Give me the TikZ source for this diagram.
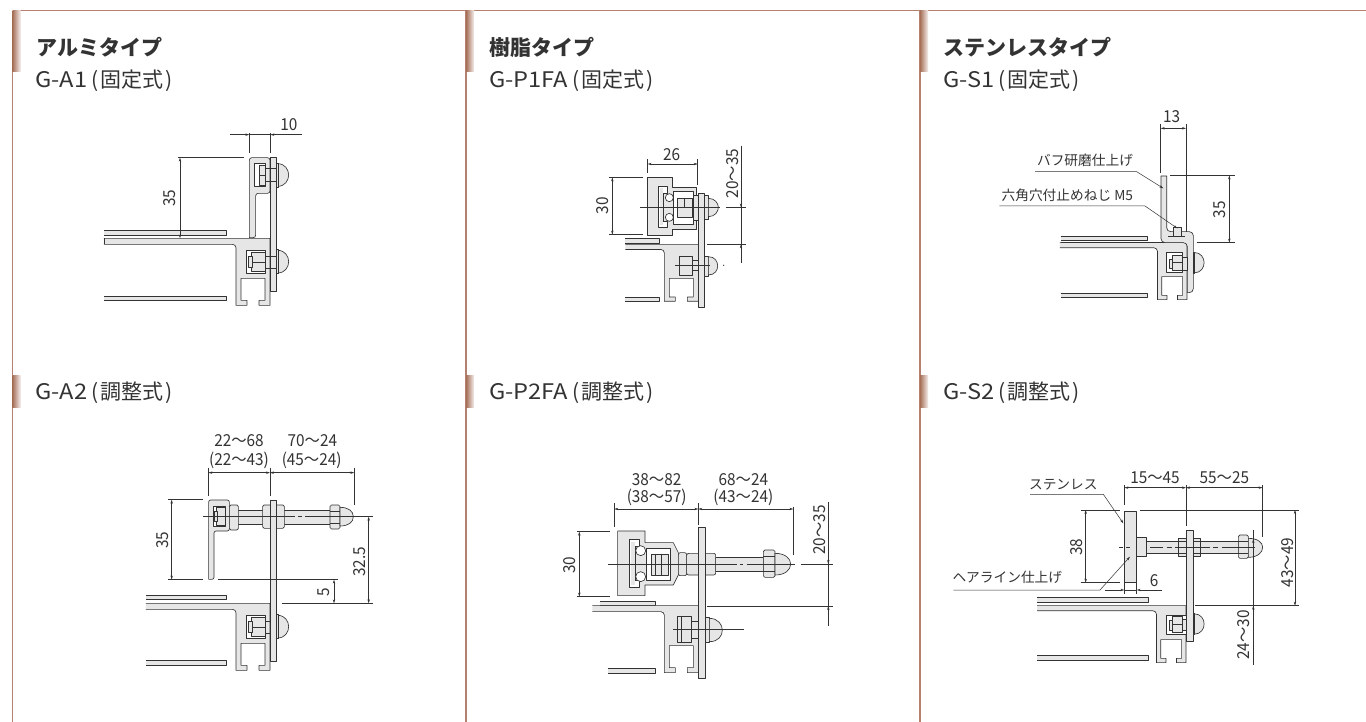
\documentclass[tikz,border=0pt]{standalone}
\usepackage{fontspec}
\setmainfont{Noto Sans CJK JP}
\newfontfamily\dimf[FakeStretch=.93]{Noto Sans CJK JP}
\newfontfamily\latf[FakeStretch=1.1]{Noto Sans CJK JP}
\usetikzlibrary{arrows.meta}
\definecolor{ln}{HTML}{333333}
\definecolor{gf}{HTML}{E6E6E6}
\definecolor{br}{HTML}{B5806F}
\definecolor{brd}{HTML}{A66F58}
\definecolor{txt}{HTML}{333333}
\tikzset{
 pt/.style={draw=ln,fill=gf,line width=.65pt,line join=round},
 wl/.style={draw=ln,fill=white,line width=.65pt,line join=round},
 ol/.style={draw=ln,line width=.65pt},
 dm/.style={draw=ln,line width=.5pt},
 dd/.style={dm,{Stealth[length=4pt,width=2.4pt]}-{Stealth[length=4pt,width=2.4pt]}},
 de/.style={dm,-{Stealth[length=4pt,width=2.4pt]}},
 dimt/.style={text=txt,font=\dimf\fontsize{16.5}{16.5}\selectfont,inner sep=0pt},
 note/.style={text=txt,font=\fontsize{13.7}{14}\selectfont,inner sep=0pt},
 head/.style={text=txt,anchor=west,inner sep=0pt,font=\fontsize{21}{22}\selectfont\bfseries},
 sub/.style={text=txt,anchor=west,inner sep=0pt,font=\fontsize{21}{22}\selectfont},
 sep/.style={draw=br,line width=1.2pt},
 barb/.style={left color=brd,right color=brd!12,draw=none},
 zs/.style={x=.33333pt,y=-.33333pt},
}
\newcommand{\subl}[2]{{\latf\fontsize{21.5}{22}\selectfont #1}\hspace{4pt}(\hspace{2pt}#2\hspace{2pt})}
% profile of the rail, in px relative to its top right corner
\newcommand{\basep}[5]{\begin{scope}[shift={(#1,#2)},x=#3pt,y=-#4pt]
 \draw[pt] (#5,0) -- (0,0) -- (0,67) -- (-11,67) -- (-11,62) -- (-5,62) -- (-5,40) -- (-29,40) -- (-29,62) -- (-23,62) -- (-23,67) -- (-34,67) [rounded corners=3.5pt] -- (-34,6) [sharp corners] -- (#5,6);
\end{scope}}
\newcommand{\railp}[4]{\draw[pt] (#1,#3) -- (#2,#3) -- (#2,#4) -- (#1,#4);}
\newcommand{\nutblock}[4]{\begin{scope}[shift={(#1,#2)}]
 \draw[wl] (0,0) rectangle (#3,#4);
 \draw[pt] ({#3*.27},{#4*.08}) rectangle (#3,{#4*.92});
 \draw[ol] ({#3*.27},{#4*.5}) -- (#3,{#4*.5});
 \draw[pt] ({#3*.1},{#4*.25}) rectangle ({#3*.3},{#4*.75});
\end{scope}}
\newcommand{\dome}[3]{\begin{scope}[shift={(#1,#2)},scale=#3]
 \draw[pt] (3,-34) .. controls (25,-34) and (36,-16) .. (36,0) .. controls (36,16) and (25,34) .. (3,34) -- cycle;
 \draw[pt] (0,-36) rectangle (4,36);
\end{scope}}
\begin{document}
\begin{tikzpicture}[x=1pt,y=-1pt]
\useasboundingbox (0,0) rectangle (1366,722);
\fill[white] (0,0) rectangle (1366,722);
% panel frames
\draw[sep] (12.5,10.8) -- (1366,10.8);
\draw[sep] (12.5,10.8) -- (12.5,722);
\draw[sep] (466,10.8) -- (466,722);
\draw[sep] (920,10.8) -- (920,722);
\foreach \bx in {12.5,466,920}{
 \shade[barb] (\bx,11) rectangle (\bx+8,71.5);
 \shade[barb] (\bx,375) rectangle (\bx+8,407);
}
% headings
\node[head] (h1) at (36,47.5) {アルミタイプ};
\node[head] (h2) at (489,47.5) {樹脂タイプ};
\node[head] (h3) at (943,47.5) {ステンレスタイプ};
\node[sub] (s1) at (35,81) {\subl{G-A1}{固定式}};
\node[sub] (s2) at (35,393) {\subl{G-A2}{調整式}};
\node[sub] (s3) at (489,81) {\subl{G-P1FA}{固定式}};
\node[sub] (s4) at (489,393) {\subl{G-P2FA}{調整式}};
\node[sub] (s5) at (943,81) {\subl{G-S1}{固定式}};
\node[sub] (s6) at (943,393) {\subl{G-S2}{調整式}};

%% ---------- G-A1
\begin{scope}[shift={(90,110)},zs]
 \railp{42}{410}{362}{375}
 \railp{42}{410}{558}{572}
 \draw[pt,rounded corners=2.5pt] (478,383) -- (478,143) -- (540,143) -- (540,250) -- (497,250) -- (497,383) [sharp corners] -- cycle;
 \basep{540}{385}{1}{1}{-166}
 \draw[ol] (42,385) -- (42,403);
 \draw[pt] (540,143) -- (560,143) -- (560,545) -- (540,545) -- cycle;
 \nutblock{470}{422}{55}{68}
 \draw[wl] (493,160) rectangle (525,230);
 \draw[pt] (507,165) rectangle (525,225);
 \draw[ol] (507,195) -- (525,195);
 \draw[ol] (525,175) -- (560,175) (525,215) -- (560,215) (525,438) -- (560,438) (525,476) -- (560,476);
 \dome{560}{195}{1}
 \dome{560}{455}{1}
 \draw[dm] (478,128) -- (478,68) (541,128) -- (541,68);
 \draw[de] (421,74) -- (478,74);
 \draw[de] (635,74) -- (541,74);
 \draw[dm] (478,74) -- (541,74);
 \node[dimt] (t1) at (597,45) {10};
 \draw[dm] (265,143) -- (462,143);
 \draw[dd] (270,143) -- (270,385);
 \node[dimt,rotate=90] (t2) at (240,265) {35};
\end{scope}

%% ---------- G-A2
\begin{scope}[shift={(130,425)},zs]
 \railp{48}{290}{510}{523}
 \railp{48}{290}{706}{720}
 \basep{420}{535}{1}{1}{-124}
 \draw[pt,rounded corners=2pt] (236,463) -- (236,225) -- (298,225) -- (298,318) -- (252,318) -- (252,463) [sharp corners] -- cycle;
 \draw[pt] (298,255) rectangle (600,298);
 \draw[pt,rounded corners=1.5pt] (298,240) rectangle (325,315);
 \draw[pt,rounded corners=1.5pt] (398,240) rectangle (463,310);
 \draw[ol] (398,275) -- (463,275);
 \draw[pt,rounded corners=1.5pt] (600,240) rectangle (630,312);
 \draw[ol] (600,258) -- (630,258) (600,294) -- (630,294);
 \draw[pt] (630,247) .. controls (655,247) and (670,258) .. (670,275) .. controls (670,292) and (655,303) .. (630,303) -- cycle;
 \draw[pt] (420,225) -- (440,225) -- (440,710) -- (420,710) -- cycle;
 \nutblock{250}{243}{35}{62}
 \nutblock{350}{572}{55}{68}
 \draw[ol] (405,588) -- (420,588) (405,625) -- (420,625);
 \dome{440}{605}{1}
 \draw[ol] (220,275) -- (495,275) (505,275) -- (515,275) (525,275) -- (730,275);
 \draw[dm] (235,128) -- (235,213) (420,128) -- (420,213) (673,128) -- (673,240);
 \draw[dd] (235,143) -- (420,143);
 \draw[dd] (420,143) -- (673,143);
 \node[dimt] (t3) at (327,47) {22〜68};
 \node[dimt] (t4) at (327,105) {(22〜43)};
 \node[dimt] (t5) at (547,47) {70〜24};
 \node[dimt] (t6) at (545,105) {(45〜24)};
 \draw[dm] (115,224) -- (220,224) (115,464) -- (220,464) (265,464) -- (625,464) (455,535) -- (728,535);
 \draw[dd] (125,224) -- (125,464);
 \node[dimt,rotate=90] (t7) at (97,345) {35};
 \draw[dd] (612,464) -- (612,535);
 \node[dimt,rotate=90] (t8) at (580,503) {5};
 \draw[dd] (716,275) -- (716,535);
 \node[dimt,rotate=90] (t9) at (688,410) {32.5};
\end{scope}

%% ---------- G-P1FA
\begin{scope}[shift={(580,130)},zs]
 \railp{135}{237}{325}{340}
 \railp{135}{237}{503}{514}
 \basep{355}{343}{1}{.85}{-73}
 \draw[pt] (203,142) -- (277,142) -- (277,172) -- (350,172) -- (350,297) -- (277,297) -- (277,315) -- (203,315) -- cycle;
 \draw[wl] (235,168) -- (262,168) -- (262,190) -- (250,190) -- (250,275) -- (262,275) -- (262,292) -- (235,292) -- cycle;
 \fill[gf] (240,175) rectangle (250,285);
 \draw[ol] (250,190) -- (250,275);
 \draw[wl] (268,203) circle[radius=4pt];
 \draw[wl] (268,262) circle[radius=4pt];
 \draw[wl] (280,185) rectangle (340,282);
 \draw[pt] (292,205) rectangle (338,262);
 \draw[ol] (312,205) -- (312,232);
 \draw[pt] (340,195) rectangle (355,272);
 \draw[pt] (355,190) -- (372,190) -- (372,532) -- (355,532) -- cycle;
 \draw[pt] (298,378) rectangle (338,435);
 \draw[ol] (298,405) -- (338,405);
 \draw[pt] (338,390) rectangle (355,420);
 \draw[pt] (372,197) rectangle (385,267);
 \draw[pt] (385,205) .. controls (405,205) and (415,220) .. (415,232) .. controls (415,245) and (405,260) .. (385,260) -- cycle;
 \draw[pt] (372,378) rectangle (385,440);
 \draw[pt] (385,380) .. controls (405,380) and (413,395) .. (413,408) .. controls (413,420) and (405,435) .. (385,435) -- cycle;
 \draw[ol] (180,232) -- (420,232) (437,232) -- (497,232) (285,405) -- (390,405);
 \fill[ln] (431,406) circle[radius=2];
 \draw[dm] (203,88) -- (203,130) (353,88) -- (353,165);
 \draw[dd] (203,102) -- (353,102);
 \node[dimt] (t10) at (275,75) {26};
 \draw[dm] (88,142) -- (190,142) (88,314) -- (190,314);
 \draw[dd] (97,142) -- (97,314);
 \node[dimt,rotate=90] (t11) at (68,228) {30};
 \draw[dm] (483,47) -- (483,400) (382,343) -- (497,343);
 \draw[de] (483,205) -- (483,232);
 \draw[de] (483,370) -- (483,343);
 \node[dimt,rotate=90] (t12) at (457,130) {20〜35};
\end{scope}

%% ---------- G-P2FA
\begin{scope}[shift={(550,460)},zs]
 \railp{150}{315}{423}{437}
 \railp{173}{315}{625}{640}
 \basep{445}{437}{1}{1}{-106}
 \draw[pt] (203,213) -- (285,213) -- (285,248) -- (370,248) -- (385,278) -- (385,345) -- (370,375) -- (285,375) -- (285,407) -- (203,407) -- cycle;
 \draw[wl] (237,238) -- (268,238) -- (268,258) -- (255,258) -- (255,362) -- (268,362) -- (268,382) -- (237,382) -- cycle;
 \fill[gf] (243,245) rectangle (255,375);
 \draw[ol] (255,258) -- (255,362);
 \draw[wl] (272,272) circle[radius=5pt];
 \draw[wl] (272,350) circle[radius=5pt];
 \draw[wl] (290,265) rectangle (360,360);
 \draw[pt] (303,283) rectangle (355,345);
 \draw[ol] (315,283) -- (315,345) (335,283) -- (335,345);
 \draw[pt] (497,292) rectangle (640,335);
 \draw[pt,rounded corners=2pt] (385,278) rectangle (410,347);
 \draw[pt,rounded corners=2pt] (410,280) rectangle (497,345);
 \draw[pt] (445,203) -- (465,203) -- (465,655) -- (445,655) -- cycle;
 \draw[pt,rounded corners=1.5pt] (640,270) rectangle (675,352);
 \draw[ol] (640,290) -- (675,290) (640,333) -- (675,333);
 \draw[pt] (675,280) .. controls (705,280) and (722,295) .. (722,312) .. controls (722,330) and (705,345) .. (675,345) -- cycle;
 \draw[pt] (382,470) rectangle (425,547);
 \draw[ol] (395,470) -- (395,547);
 \draw[pt] (425,485) rectangle (445,535);
 \draw[pt] (465,472) rectangle (478,548);
 \draw[pt] (478,475) .. controls (505,475) and (517,495) .. (517,510) .. controls (517,528) and (505,545) .. (478,545) -- cycle;
 \draw[ol] (175,312) -- (560,312) (570,312) -- (580,312) (590,312) -- (735,312) (752,312) -- (848,312) (370,508) -- (582,508);
 \draw[dm] (193,130) -- (193,200) (445,130) -- (445,195) (730,140) -- (730,285);
 \draw[dd] (193,147) -- (445,147);
 \draw[dd] (445,147) -- (730,147);
 \node[dimt] (t13) at (320,60) {38〜82};
 \node[dimt] (t14) at (320,113) {(38〜57)};
 \node[dimt] (t15) at (580,60) {68〜24};
 \node[dimt] (t16) at (580,113) {(43〜24)};
 \draw[dm] (82,215) -- (180,215) (82,410) -- (180,410);
 \draw[dd] (88,215) -- (88,410);
 \node[dimt,rotate=90] (t17) at (60,315) {30};
 \draw[dm] (835,125) -- (835,497) (472,438) -- (848,438);
 \draw[de] (835,285) -- (835,312);
 \draw[de] (835,465) -- (835,438);
 \node[dimt,rotate=90] (t18) at (808,210) {20〜35};
\end{scope}

%% ---------- G-S1
\begin{scope}[shift={(990,100)},zs]
 \railp{212}{473}{408}{422}
 \railp{212}{473}{580}{593}
 \basep{591}{428}{.87}{.85}{-146}
 \draw[ln,line width=1pt] (212,429) -- (590,429);
 \draw[pt] (530,228) -- (530,385) [rounded corners=4pt] -- (530,395) -- (610,395) -- (610,578) [sharp corners] -- (592,578) [rounded corners=4pt] -- (592,428) -- (513,428) [sharp corners] -- (513,228) -- cycle;
 \draw[pt] (550,382) rectangle (575,410);
 \draw[ol] (535,408) -- (585,408);
 \draw[wl] (528,458) rectangle (578,518);
 \draw[pt] (547,465) rectangle (578,510);
 \draw[pt] (537,477) rectangle (547,505);
 \draw[ol] (547,488) -- (578,488);
 \draw[pt] (578,473) rectangle (592,510);
 \dome{610}{488}{.9}
 \draw[dm] (512,72) -- (512,218) (588,72) -- (588,395);
 \draw[dd] (512,85) -- (588,85);
 \node[dimt] (t19) at (545,50) {13};
 \draw[dm] (540,226) -- (735,226) (620,428) -- (735,428);
 \draw[dd] (718,226) -- (718,428);
 \node[dimt,rotate=90] (t20) at (688,330) {35};
 \node[note] (t21) at (285,182) {バフ研磨仕上げ};
 \node[note] (t22) at (232,285) {六角穴付止めねじ M5};
 \draw[de] (135,215) -- (440,215) -- (520,265);
 \draw[de] (28,318) -- (465,318) -- (562,385);
\end{scope}

%% ---------- G-S2
\begin{scope}[shift={(950,460)},zs]
 \railp{262}{595}{413}{428}
 \railp{262}{595}{587}{600}
 \basep{708}{437}{.87}{.85}{-171}
 \draw[pt] (523,153) rectangle (560,367);
 \draw[pt] (588,245) rectangle (865,280);
 \draw[pt] (560,232) rectangle (588,290);
 \draw[pt] (685,235) rectangle (752,288);
 \draw[ol] (685,245) -- (752,245) (685,280) -- (752,280);
 \draw[pt] (708,212) -- (730,212) -- (730,543) -- (708,543) -- cycle;
 \draw[pt,rounded corners=1.5pt] (865,225) rectangle (895,295);
 \draw[ol] (865,245) -- (895,245) (865,280) -- (895,280);
 \draw[pt] (895,235) .. controls (922,235) and (938,247) .. (938,262) .. controls (938,278) and (922,292) .. (895,292) -- cycle;
 \draw[wl] (648,465) rectangle (708,523);
 \draw[pt] (668,470) rectangle (698,518);
 \draw[pt] (658,480) rectangle (668,510);
 \draw[ol] (668,494) -- (698,494);
 \draw[pt] (698,478) rectangle (708,510);
 \dome{730}{492}{.9}
 \draw[ol] (507,262) -- (518,262) (528,262) -- (540,262) (600,262) -- (640,262) (650,262) -- (665,262) (675,262) -- (780,262) (790,262) -- (805,262) (815,262) -- (915,262);
 \draw[dm] (523,75) -- (523,135) (708,75) -- (708,197) (938,75) -- (938,230);
 \draw[dd] (523,83) -- (708,83);
 \draw[dd] (708,83) -- (938,83);
 \node[dimt] (t23) at (615,52) {15〜45};
 \node[dimt] (t24) at (823,52) {55〜25};
 \draw[dm] (392,150) -- (510,150) (570,150) -- (1048,150) (392,368) -- (510,368);
 \draw[dd] (407,150) -- (407,368);
 \node[dimt,rotate=90] (t25) at (380,262) {38};
 \draw[dm] (735,437) -- (1048,437);
 \draw[dd] (1035,150) -- (1035,437);
 \node[dimt,rotate=90] (t26) at (1012,308) {43〜49};
 \draw[dm] (910,210) -- (910,615);
 \draw[de] (910,265) -- (910,237);
 \draw[de] (910,465) -- (910,437);
 \node[dimt,rotate=90] (t27) at (880,525) {24〜30};
 \draw[dm] (523,367) -- (523,403) (560,367) -- (560,403) (523,390) -- (560,390);
 \draw[de] (465,390) -- (523,390);
 \draw[de] (635,390) -- (560,390);
 \node[dimt] (t28) at (612,362) {6};
 \node[note] (t29) at (340,75) {ステンレス};
 \node[note] (t30) at (172,353) {ヘアライン仕上げ};
 \draw[de] (240,103) -- (460,103) -- (520,190);
 \draw[de] (10,390) -- (450,390) -- (540,290);
\end{scope}
\end{tikzpicture}
\end{document}
